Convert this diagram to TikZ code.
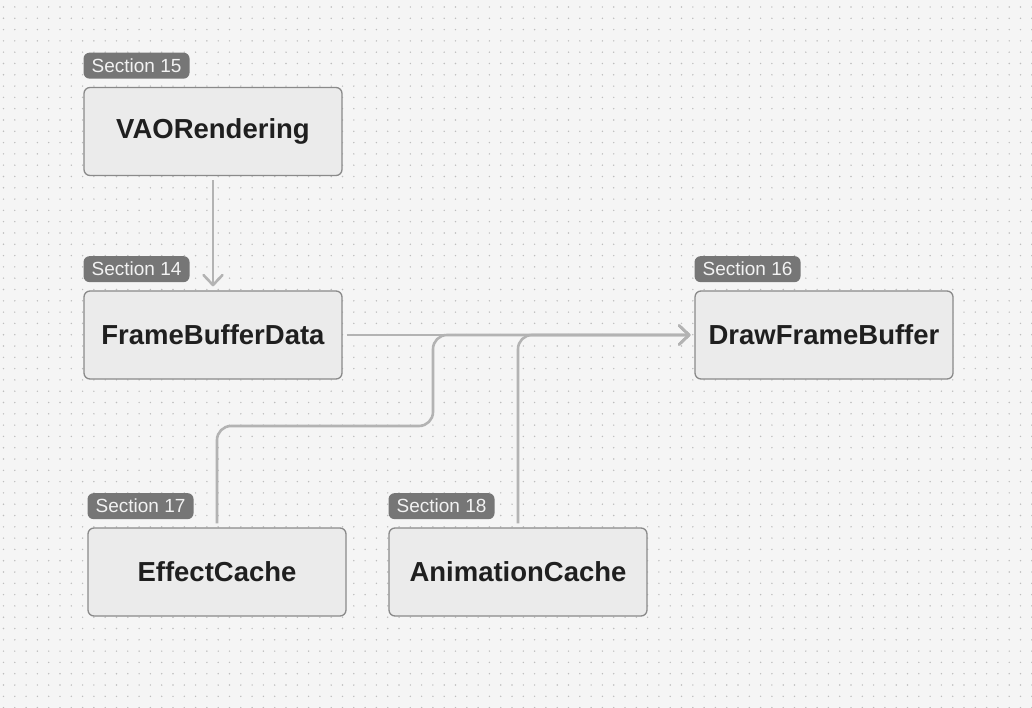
\documentclass[tikz,border=0pt]{standalone}
\usepackage{fontspec}
\setmainfont{Liberation Sans}
\usetikzlibrary{arrows.meta}
\definecolor{canvas}{HTML}{F5F5F5}
\definecolor{griddot}{HTML}{BDBDBD}
\definecolor{boxfill}{HTML}{EBEBEB}
\definecolor{boxline}{HTML}{8A8A8A}
\definecolor{tagfill}{HTML}{767676}
\definecolor{tagtext}{HTML}{F2F2F2}
\definecolor{wire}{HTML}{B3B3B3}
\tikzset{
  module/.style={shape=rectangle, draw=boxline, fill=boxfill, line width=1.3pt,
    rounded corners=6pt, minimum width=258pt, minimum height=88pt,
    font=\fontsize{27.5}{32}\selectfont\bfseries, text=black!88},
  tag/.style={shape=rectangle, fill=tagfill, rounded corners=6pt, anchor=south west,
    minimum width=106pt, minimum height=26pt, inner sep=0pt,
    font=\fontsize{19}{22}\selectfont, text=tagtext},
  conn/.style={draw=wire, line width=2.6pt, rounded corners=14pt,
    shorten <=4pt, shorten >=4pt,
    -{Straight Barb[length=10pt, width=19pt, line cap=round, line join=round]}}
}
\begin{document}
\begin{tikzpicture}[x=1pt, y=-1pt]
\useasboundingbox (0,0) rectangle (1032,708);
\fill[canvas] (0,0) rectangle (1032,708);
% dotted canvas
\foreach \gx in {0,...,91}
  \foreach \gy in {0,...,62}
    \fill[griddot] (3.5+\gx*11.3, 7+\gy*11.3) circle (0.8pt);

\node[module] (vao)  at (213,131.5) {VAORendering};
\node[module] (fbd)  at (213,335) {FrameBufferData};
\node[module] (dfb)  at (824,335) {DrawFrameBuffer};
\node[module] (eff)  at (217,572) {EffectCache};
\node[module] (anim) at (518,572) {AnimationCache};

\node[tag] (vaotag)  at ([yshift=8pt]vao.north west)  {Section 15};
\node[tag] (fbdtag)  at ([yshift=8pt]fbd.north west)  {Section 14};
\node[tag] (dfbtag)  at ([yshift=8pt]dfb.north west)  {Section 16};
\node[tag] (efftag)  at ([yshift=8pt]eff.north west)  {Section 17};
\node[tag] (animtag) at ([yshift=8pt]anim.north west) {Section 18};

\coordinate (effturn) at (433,426);

\draw[conn] (vao) -- (fbd);
\draw[conn] (fbd) -- (dfb);
\draw[conn] (eff.north) |- (effturn) |- (dfb.west);
\draw[conn] (anim.north) |- (dfb.west);
\end{tikzpicture}
\end{document}
